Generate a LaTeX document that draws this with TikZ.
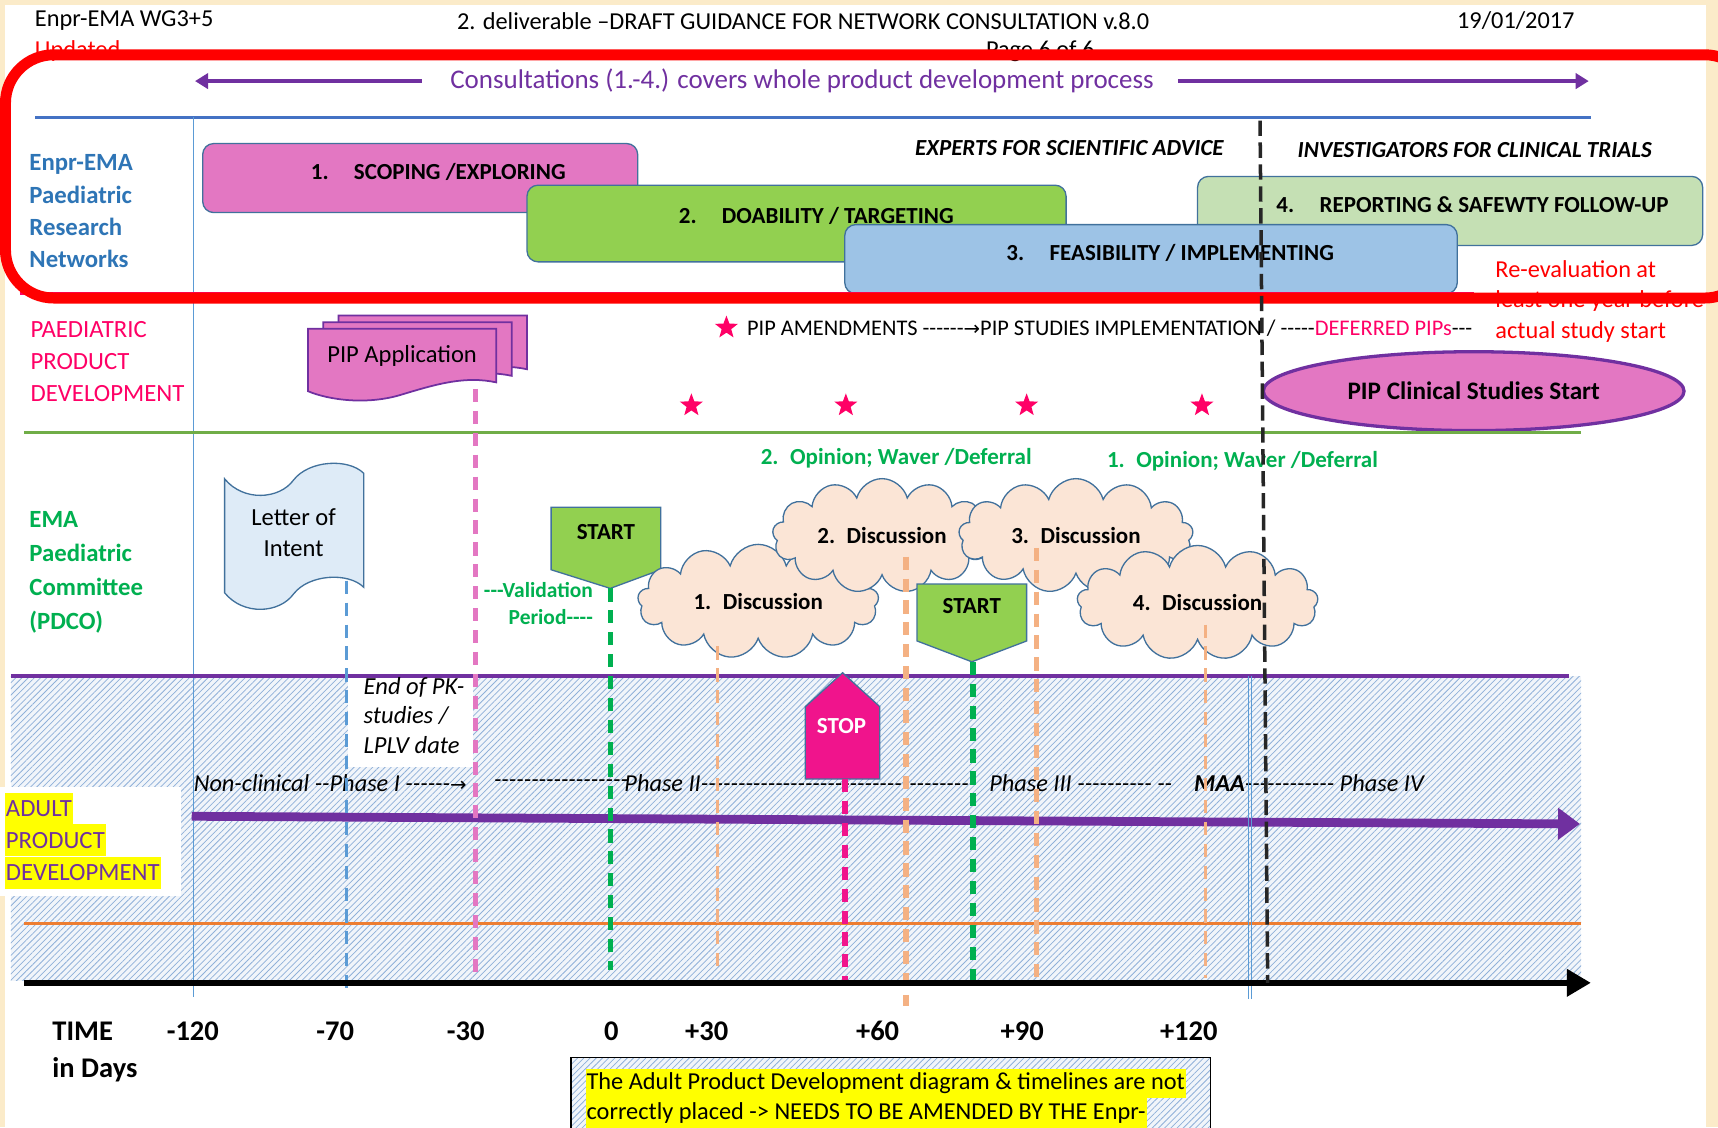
\documentclass[tikz,border=0pt]{standalone}
\usepackage{fontspec}
\setmainfont{Carlito}[Ligatures=TeXOff]
\newfontfamily\arrowfont{DejaVu Sans}
\usetikzlibrary{arrows.meta}
\usetikzlibrary{shapes.geometric,shapes.symbols}
\usetikzlibrary{patterns.meta}

\definecolor{cream}{HTML}{FBEBC9}
\definecolor{netblue}{HTML}{2E75B6}
\definecolor{pdcogreen}{HTML}{00B050}
\definecolor{pipred}{HTML}{FF0066}
\definecolor{adultpurple}{HTML}{7030A0}
\definecolor{frameblue}{HTML}{41719C}
\definecolor{scopepink}{HTML}{E377C2}
\definecolor{doagreen}{HTML}{92D050}
\definecolor{feasblue}{HTML}{9DC3E6}
\definecolor{reportgreen}{HTML}{C5E0B4}
\definecolor{lineblue}{HTML}{4472C4}
\definecolor{thinblue}{HTML}{5B9BD5}
\definecolor{linegreen}{HTML}{70AD47}
\definecolor{lineorange}{HTML}{ED7D31}
\definecolor{discorange}{HTML}{F4B183}
\definecolor{cloudfill}{HTML}{FBE5D6}
\definecolor{letterfill}{HTML}{DEEBF7}
\definecolor{stoppink}{HTML}{F0148C}
\definecolor{hatchblue}{HTML}{8FB0D8}
\definecolor{hatchbg}{HTML}{F1F5FA}
\definecolor{markyellow}{HTML}{FFFF00}

\begin{document}
\begin{tikzpicture}[x=0.5pt,y=0.5pt,yscale=-1,xscale=1,
  txt/.style={inner sep=0.75pt},
  hdr/.style={txt,font=\fontsize{11.1}{13}\selectfont},
  sidelbl/.style={txt,anchor=west,align=left,font=\fontsize{11.3}{14.75}\selectfont},
  boxtxt/.style={txt,font=\fontsize{10.5}{12.6}\selectfont\bfseries},
  rolelbl/.style={txt,font=\fontsize{10.5}{12}\selectfont\bfseries\itshape},
  consbox/.style={draw=frameblue,line width=0.6pt,rounded corners=5pt},
  pipdoc/.style={draw=adultpurple,fill=scopepink,line width=0.8pt},
  amdstar/.style={star,star points=5,star point ratio=2.4,fill=pipred,inner sep=0pt,minimum size=11pt},
  disccloud/.style={cloud,cloud puffs=13,aspect=2.2,draw=frameblue,fill=cloudfill,line width=0.6pt,inner sep=0pt,font=\fontsize{10.5}{12.6}\selectfont\bfseries},
  startshape/.style={draw=frameblue,fill=doagreen,line width=0.6pt},
  vdash/.style={line width=2.5pt,dash pattern=on 6pt off 4pt},
  thindash/.style={line width=1.5pt,dash pattern=on 6pt off 4pt},
  phasetxt/.style={txt,anchor=west,font=\fontsize{11.1}{13}\selectfont\itshape},
  timelbl/.style={txt,font=\fontsize{13}{15.6}\selectfont\bfseries},
  hilite/.style={fill=markyellow,inner xsep=0.5pt,inner ysep=0pt,minimum height=14.6pt,anchor=west},
  hatch/.style={preaction={fill=hatchbg},pattern={Lines[angle=45,distance=2pt,line width=0.35pt]},pattern color=hatchblue},
]
\useasboundingbox (0,0) rectangle (1568,1029);

%Shape: page
\fill[cream] (0,0) rectangle (1568,1029);
\fill[white] (5,5) rectangle (1557,1029);

% Text Node
\draw (30,19) node (wg) [hdr,anchor=west] {Enpr-EMA WG3+5};
% Text Node
\draw (733,19) node (title) [hdr] {2. deliverable –DRAFT GUIDANCE FOR NETWORK CONSULTATION v.8.0};
% Text Node
\draw (1328,19) node (date) [hdr,anchor=west] {19/01/2017};
% Text Node
\draw (30,47) node (upd) [hdr,anchor=west,text=red] {Updated};
% Text Node
\draw (898,47) node (page) [hdr,anchor=west] {Page 6 of 6};

%Shape: adult development area
\path[hatch] (10,617) rectangle (1443,895);
\fill[white] (318,619) rectangle (432,700);
\fill[white] (0,718) rectangle (165,818);

%Shape: section lines
\draw[lineblue,line width=1.5pt] (32,107) -- (1452,107);
\draw[thinblue,line width=0.5pt] (177,107) -- (177,910);

% Text Node
\draw (25,193) node (netlbl) [sidelbl,text=netblue,font=\fontsize{11.3}{14.75}\selectfont\bfseries] {Enpr-EMA\\Paediatric\\Research\\Networks};
% Text Node
\draw (26,330) node (pedlbl) [sidelbl,text=pipred] {PAEDIATRIC\\PRODUCT\\DEVELOPMENT};
% Text Node
\draw (25,522) node (pdcolbl) [sidelbl,text=pdcogreen,font=\fontsize{11.3}{15.5}\selectfont\bfseries] {EMA\\Paediatric\\Committee\\(PDCO)};

%Shape: consultation boxes
\draw[consbox,fill=scopepink] (185,131) rectangle (582,194);
\draw (400,157) node (scope) [boxtxt] {1.\hspace{1.1em}SCOPING /EXPLORING};
\draw[consbox,fill=doagreen] (481,169) rectangle (973,239);
\draw (745,197) node (doab) [boxtxt] {2.\hspace{1.1em}DOABILITY / TARGETING};
\draw[consbox,fill=reportgreen] (1093,161) rectangle (1554,224);
\draw (1344,187) node (report) [boxtxt] {4.\hspace{1.1em}REPORTING \& SAFEWTY FOLLOW-UP};
\draw[consbox,fill=feasblue] (771,205) rectangle (1330,268);
\draw (1068,231) node (feas) [boxtxt] {3.\hspace{1.1em}FEASIBILITY / IMPLEMENTING};

% Text Node
\draw (976,135) node (experts) [rolelbl] {EXPERTS FOR SCIENTIFIC ADVICE};
% Text Node
\draw (1346,137) node (investig) [rolelbl] {INVESTIGATORS FOR CLINICAL TRIALS};
% Text Node
\draw (1363,275) node (reeval) [txt,anchor=west,align=left,text=red,font=\fontsize{11.1}{14}\selectfont] {Re-evaluation at\\least one year before\\actual study start};

%Shape: red frame
\draw[pipred,line width=1.2pt] (18,268) -- (1345,268);
\draw[red,line width=5pt,rounded corners=22pt] (5,50) rectangle (1600,272);

%Shape: consultation span
\draw (732,74) node (consult) [txt,text=adultpurple,font=\fontsize{12.3}{14}\selectfont] {Consultations (1.-4.) covers whole product development process};
\coordinate (consult-l) at (385,74);
\coordinate (consult-r) at (1075,74);
\coordinate (spanl) at (178,74);
\coordinate (spanr) at (1450,74);
\draw[adultpurple,line width=2pt,-{Triangle[length=6pt,width=7pt]}] (consult-l) -- (spanl);
\draw[adultpurple,line width=2pt,-{Triangle[length=6pt,width=7pt]}] (consult-r) -- (spanr);

%Shape: PIP application (multi document)
\foreach \dx/\dy in {28/-12,14/-6,0/0}
  \draw[pipdoc,shift={(\dx,\dy)}] (281,300) -- (453,300) -- (453,349) .. controls (425,343) and (400,350) .. (367,360) .. controls (335,370) and (300,365) .. (281,357) -- cycle;
\draw (367,325) node (pipapp) [txt,font=\fontsize{11.2}{13}\selectfont] {PIP Application};
\coordinate (pipapp-foot) at (434,355);

%Shape: amendment stars
\node (amd0) [amdstar] at (663,299) {};
\node (amd1) [amdstar] at (631,370) {};
\node (amd2) [amdstar] at (772,370) {};
\node (amd3) [amdstar] at (937,370) {};
\node (amd4) [amdstar] at (1097,370) {};
% Text Node
\draw (680,300) node (amdtxt) [txt,anchor=west,font=\fontsize{10.2}{12}\selectfont] {PIP AMENDMENTS ------{\arrowfont\fontsize{9}{12}\selectfont →}PIP STUDIES IMPLEMENTATION / -----\textcolor{pipred}{DEFERRED PIPs}---};

%Shape: Ellipse
\node (pipstart) [ellipse,draw=adultpurple,line width=1.5pt,fill=scopepink,minimum width=192pt,minimum height=36pt,font=\fontsize{11.5}{14}\selectfont\bfseries] at (1345,357) {PIP Clinical Studies Start};

\draw[linegreen,line width=1.5pt] (22,395) -- (1443,395);

%Shape: letter of intent
\draw[draw=frameblue,fill=letterfill,line width=0.6pt] (205,437) .. controls (222,458) and (255,456) .. (268,438) .. controls (282,420) and (318,418) .. (332,432) -- (332,536) .. controls (318,522) and (282,524) .. (268,542) .. controls (255,560) and (222,562) .. (205,541) -- cycle;
\draw (268,486) node (loi) [txt,align=center,font=\fontsize{11.2}{14}\selectfont] {Letter of\\Intent};
\coordinate (loi-foot) at (316,530);

%Shape: START
\draw[startshape] (503,463) -- (603,463) -- (603,520) -- (557,537) -- (503,520) -- cycle;
\draw (553,486) node (start1) [boxtxt] {START};
\coordinate (start1-tip) at (557,537);
% Text Node
\draw (543,551) node (valid) [txt,anchor=east,align=right,text=pdcogreen,font=\fontsize{9.8}{12.5}\selectfont\bfseries] {---Validation\\Period----};

% Text Node
\draw (818,418) node (opin2) [boxtxt,text=pdcogreen] {2.\hspace{0.5em}Opinion; Waver /Deferral};
% Text Node
\draw (1134,421) node (opin1) [boxtxt,text=pdcogreen] {1.\hspace{0.5em}Opinion; Waver /Deferral};

%Shape: Cloud
\node (disc1) [disccloud,minimum width=110pt,minimum height=49pt] at (692,549) {1.\hspace{0.5em}Discussion};
\node (disc2) [disccloud,minimum width=100pt,minimum height=46pt] at (805,489) {2.\hspace{0.5em}Discussion};
\node (disc3) [disccloud,minimum width=107pt,minimum height=46pt] at (982,489) {3.\hspace{0.5em}Discussion};
\node (disc4) [disccloud,minimum width=110pt,minimum height=50pt] at (1093,550) {4.\hspace{0.5em}Discussion};

%Shape: START
\draw[startshape] (837,533) -- (937,533) -- (937,585) -- (887,604) -- (837,585) -- cycle;
\draw (887,553) node (start2) [boxtxt] {START};
\coordinate (start2-tip) at (888,604);

\draw[adultpurple,line width=1.5pt] (10,617) -- (1432,617);
\draw[lineorange,line width=1.2pt] (22,843) -- (1443,843);

% Text Node
\draw (330,653) node (pkend) [txt,anchor=west,align=left,font=\fontsize{11.2}{13.5}\selectfont\itshape] {End of PK-\\studies /\\LPLV date};
% Text Node
\draw (175,715) node (ph1) [phasetxt] {Non-clinical --Phase I ------{\arrowfont\upshape\fontsize{9}{12}\selectfont →}};
\draw (449,715) node (ph2dash) [phasetxt] {------------------};
\draw (568,715) node (ph2) [phasetxt] {Phase II-------------------------------------};
\draw (901,715) node (ph3) [phasetxt] {Phase III ---------- --};
\draw (1088,715) node (ph4) [phasetxt] {\bfseries MAA\mdseries------------\ Phase IV};

%Shape: adult product arrow
\coordinate (adult-start) at (175,745);
\coordinate (adult-end) at (1442,752);
\draw[adultpurple,line width=4pt,-{Triangle[length=10pt,width=14pt]}] (adult-start) -- (adult-end);

% Text Node
\node (adult1) [hilite,text=adultpurple,font=\fontsize{11.3}{12}\selectfont] at (4,738) {ADULT};
\node (adult2) [hilite,text=adultpurple,font=\fontsize{11.3}{12}\selectfont] at (4,767) {PRODUCT};
\node (adult3) [hilite,text=adultpurple,font=\fontsize{11.3}{12}\selectfont] at (4,796.5) {DEVELOPMENT};

%Shape: STOP
\draw[draw=frameblue,fill=stoppink,line width=0.6pt] (735,711) -- (735,645) -- (769,614) -- (803,645) -- (803,711) -- cycle;
\draw (768,663) node (stop) [txt,text=white,font=\fontsize{10.5}{12}\selectfont\bfseries] {STOP};
\coordinate (stop-foot) at (771,711);

%Shape: milestone lines
\coordinate (loi-end) at (316,908);
\coordinate (pipapp-end) at (434,893);
\coordinate (start1-end) at (557,885);
\coordinate (disc1-end) at (655,885);
\coordinate (stop-end) at (771,895);
\coordinate (disc2-end) at (827,918);
\coordinate (start2-end) at (888,897);
\coordinate (disc3-end) at (946,895);
\coordinate (disc4-end) at (1100,893);
\draw[thinblue,thindash] (loi-foot) -- (loi-end);
\draw[scopepink,vdash] (pipapp-foot) -- (pipapp-end);
\draw[pdcogreen,vdash] (start1-tip) -- (start1-end);
\draw[discorange,thindash] (655,590) -- (disc1-end);
\draw[stoppink,vdash] (stop-foot) -- (stop-end);
\draw[discorange,vdash] (827,508) -- (disc2-end);
\draw[pdcogreen,vdash] (start2-tip) -- (start2-end);
\draw[discorange,vdash] (946,500) -- (disc3-end);
\draw[discorange,thindash] (1100,570) -- (disc4-end);
\draw[thinblue,line width=0.4pt] (1139.5,617) -- (1139.5,912);
\draw[thinblue,line width=0.4pt] (1142.5,617) -- (1142.5,912);

%Shape: time axis
\coordinate (axis-start) at (22,897);
\coordinate (axis-end) at (1452,897);
\draw[black,line width=3pt,-{Triangle[length=11pt,width=12pt]}] (axis-start) -- (axis-end);

%Shape: network split
\coordinate (split-top) at (1150,110);
\coordinate (split-bot) at (1157,897);
\draw[black!85,line width=1.6pt,dash pattern=on 7pt off 3pt] (split-top) -- (split-bot);

% Text Node
\draw (46,941) node (time) [timelbl,anchor=west] {TIME};
\draw (46,976) node (days) [timelbl,anchor=west] {in Days};
\draw (176,941) node (tm120) [timelbl] {-120};
\draw (306,941) node (tm70) [timelbl] {-70};
\draw (425,941) node (tm30) [timelbl] {-30};
\draw (558,941) node (t0) [timelbl] {0};
\draw (645,941) node (tp30) [timelbl] {+30};
\draw (801,941) node (tp60) [timelbl] {+60};
\draw (933,941) node (tp90) [timelbl] {+90};
\draw (1085,941) node (tp120) [timelbl] {+120};

%Shape: note box
\path[hatch] (521,965) rectangle (1105,1040);
\draw[black,line width=0.6pt] (521,965) rectangle (1105,1040);
\node (note1) [hilite,minimum height=13.5pt,font=\fontsize{11.1}{12}\selectfont] at (534,989) {The Adult Product Development diagram \& timelines are not};
\node (note2) [hilite,minimum height=13.5pt,font=\fontsize{11.1}{12}\selectfont] at (534,1016) {correctly placed -> NEEDS TO BE AMENDED BY THE Enpr-};

\end{tikzpicture}
\end{document}
